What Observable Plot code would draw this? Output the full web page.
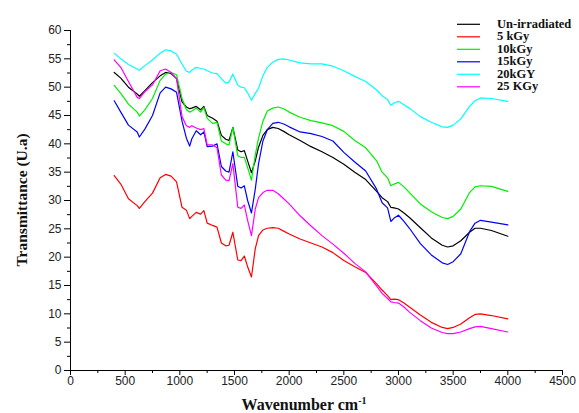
<!DOCTYPE html>
<html><head><meta charset="utf-8">
<script src="https://cdn.jsdelivr.net/npm/d3@7"></script>
<script src="https://cdn.jsdelivr.net/npm/@observablehq/plot@0.6"></script>
<style>body{margin:0;background:#fff} #chart{width:579px;height:413px}</style>
</head><body><div id="chart"></div>
<script>
const wavenumber = [400,460,530,610,630,680,750,820,870,920,970,1020,1060,1090,1110,1150,1190,1220,1250,1300,1340,1380,1420,1450,1485,1530,1560,1590,1620,1655,1690,1720,1760,1800,1850,1900,1950,2000,2100,2200,2300,2400,2500,2600,2700,2800,2850,2900,2930,2960,3000,3050,3100,3200,3300,3400,3450,3500,3570,3650,3700,3750,3850,4000];
const unIrradiated = [52.6,51.6,50.0,48.8,48.4,49.4,50.8,52.0,52.6,52.4,51.5,47.4,46.5,46.2,46.3,46.6,46.0,46.6,45.0,44.5,44.0,41.5,40.8,40.6,42.9,38.9,38.6,38.8,37.0,34.9,37.0,39.4,41.5,42.5,42.9,42.7,42.2,41.6,40.6,39.5,38.6,37.6,36.4,35.0,33.7,31.6,30.5,29.8,28.8,28.7,28.5,27.8,27.0,25.2,23.4,22.1,21.8,22.0,22.9,24.4,25.1,25.1,24.7,23.7];
const kGy5 = [34.4,32.9,30.3,29.1,28.6,29.8,31.3,34.0,34.6,34.3,33.3,28.8,28.3,26.8,27.2,27.9,27.6,28.2,26.0,25.6,25.3,22.5,22.0,22.1,24.4,19.5,19.4,20.2,18.3,16.5,21.5,23.8,24.8,25.1,25.2,25.1,24.6,24.1,23.2,22.5,21.8,20.8,19.4,18.3,17.3,15.3,14.2,13.2,12.5,12.6,12.5,11.9,11.2,9.8,8.5,7.6,7.4,7.6,8.2,9.3,9.9,10.0,9.7,9.1];
const kGy10 = [50.3,48.9,47.0,45.6,44.9,46.0,48.0,51.2,52.3,52.6,52.2,48.0,46.0,45.6,45.8,46.3,45.6,46.4,44.5,43.6,43.8,40.5,40.0,39.8,42.9,37.9,37.6,37.6,35.8,33.6,38.0,41.0,44.0,45.8,46.3,46.5,46.2,45.6,44.7,44.1,43.7,43.2,42.2,40.6,39.3,37.0,35.0,34.0,32.6,32.9,33.2,32.4,31.4,29.4,28.0,27.0,26.8,27.2,28.5,31.4,32.4,32.6,32.5,31.6];
const kGy15 = [47.6,45.6,43.3,42.1,41.2,42.6,45.0,49.0,50.0,49.7,49.1,44.0,41.0,39.6,40.9,42.3,41.6,42.1,39.5,39.6,40.0,36.0,35.2,35.0,38.6,32.5,32.2,32.6,30.0,27.8,32.0,36.5,40.5,42.5,43.6,43.8,43.5,43.0,42.1,41.8,41.3,40.5,38.5,36.8,35.2,32.0,29.6,28.7,26.3,26.9,27.4,26.3,25.1,22.4,20.4,19.0,18.7,19.2,20.6,24.5,26.0,26.5,26.2,25.7];
const kGy20 = [56.0,55.0,54.0,53.2,53.0,53.8,54.8,56.0,56.6,56.4,55.8,54.1,52.8,52.6,53.0,53.5,53.3,53.2,52.9,52.5,52.4,51.5,50.7,50.9,52.3,50.4,50.0,49.9,49.0,47.7,48.9,49.8,52.0,53.5,54.4,54.9,55.0,54.8,54.3,54.1,54.1,53.7,52.9,51.9,51.0,49.5,48.5,47.8,46.8,47.2,47.5,46.9,46.3,44.8,43.8,43.0,42.9,43.3,44.4,46.6,47.6,48.1,48.0,47.5];
const kGy25 = [54.8,53.5,51.0,48.2,48.0,49.2,50.4,52.9,53.2,52.6,51.5,44.8,43.2,42.9,43.2,42.8,42.5,42.7,39.8,39.8,39.3,34.5,33.6,33.5,36.5,28.8,28.6,29.2,26.5,23.8,28.5,30.5,31.4,31.8,31.8,31.2,30.3,29.4,27.3,25.5,23.8,22.3,20.7,18.9,17.4,14.9,13.6,12.7,12.1,12.0,11.9,11.2,10.3,8.8,7.5,6.7,6.5,6.5,6.8,7.4,7.7,7.8,7.4,6.8];
const seriesNames = ["Un-irradiated","5 kGy","10kGy","15kGy","20kGY","25 KGy"];
const seriesColors = ["#000000","#ff0000","#00ee00","#0000ff","#00ffff","#ff00ff"];
const xTicks = [0,500,1000,1500,2000,2500,3000,3500,4000,4500];
const xMinor = [250,750,1250,1750,2250,2750,3250,3750,4250];
const yTicks = [0,5,10,15,20,25,30,35,40,45,50,55,60];
const yMinor = [2.5,7.5,12.5,17.5,22.5,27.5,32.5,37.5,42.5,47.5,52.5,57.5];

const allSeries = [unIrradiated,kGy5,kGy10,kGy15,kGy20,kGy25];
const rows = [];
allSeries.forEach((vals, si) => vals.forEach((v, i) => rows.push({series: seriesNames[si], wn: wavenumber[i], t: v})));

const plot = Plot.plot({
  width: 579, height: 413,
  marginLeft: 70, marginRight: 17, marginTop: 30, marginBottom: 43,
  x: {domain: [0, 4500]},
  y: {domain: [0, 60]},
  color: {domain: seriesNames, range: seriesColors},
  style: {fontFamily: "'Liberation Sans', Arial, sans-serif", fontSize: "12px", background: "white", color: "#222", overflow: "visible"},
  marks: [
    Plot.axisX({ticks: xTicks, tickSize: 5, tickPadding: 1, label: null, tickFormat: d => String(d), stroke: "#000"}),
    Plot.axisX({ticks: xMinor, tickSize: 3, label: null, tickFormat: () => "", stroke: "#000"}),
    Plot.axisY({ticks: yTicks, tickSize: 6, tickPadding: 3, label: null, tickFormat: d => String(d), stroke: "#000"}),
    Plot.axisY({ticks: yMinor, tickSize: 3, label: null, tickFormat: () => "", stroke: "#000"}),
    Plot.ruleY([0], {stroke: "#000", strokeWidth: 1}),
    Plot.ruleX([0], {stroke: "#000", strokeWidth: 1}),
    Plot.line(rows, {x: "wn", y: "t", z: "series", stroke: "series", strokeWidth: 1.2})
  ]
});

const svg = d3.select(plot);
svg.append("text")
  .attr("transform", "translate(27,200) rotate(-90)")
  .attr("text-anchor", "middle")
  .attr("font-family", "'Liberation Serif', 'Times New Roman', serif")
  .attr("font-weight", "bold").attr("font-size", "15.5px").attr("fill", "#111")
  .text("Transmittance (U.a)");
const xt = svg.append("text")
  .attr("x", 304).attr("y", 410)
  .attr("text-anchor", "middle")
  .attr("font-family", "'Liberation Serif', 'Times New Roman', serif")
  .attr("font-weight", "bold").attr("font-size", "16px").attr("fill", "#111");
xt.append("tspan").text("Wavenumber cm");
xt.append("tspan").attr("font-size", "10px").attr("dy", "-6").text("-1");

const lg = svg.append("g");
seriesNames.forEach((name, i) => {
  const y = 24.3 + i * 12.5;
  lg.append("line").attr("x1", 457).attr("x2", 480).attr("y1", y).attr("y2", y)
    .attr("stroke", seriesColors[i]).attr("stroke-width", 1.2);
  lg.append("text").attr("x", 497).attr("y", y + 3.5)
    .attr("text-anchor", "start")
    .attr("font-family", "'Liberation Serif', 'Times New Roman', serif")
    .attr("font-weight", "bold").attr("font-size", "12.5px").attr("fill", "#111")
    .text(name);
});

document.getElementById("chart").appendChild(plot);
</script>
</body></html>
